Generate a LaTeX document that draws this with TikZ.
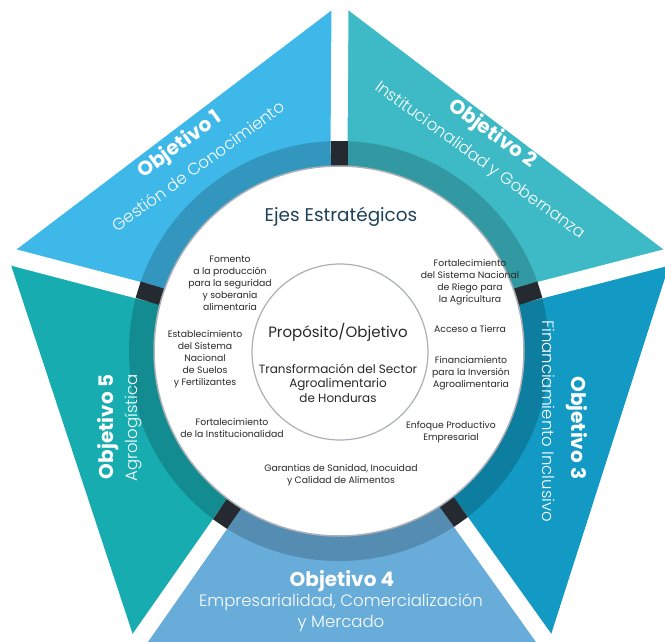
\documentclass[tikz,border=0pt]{standalone}
\usepackage{fontspec}
\setmainfont{Poppins}
\IfFontExistsTF{Poppins Light}{\newfontfamily\lightfont{Poppins Light}}{\newfontfamily\lightfont{Poppins}}
\usetikzlibrary{calc}
\definecolor{cA}{RGB}{62,184,232}
\definecolor{cB}{RGB}{62,186,198}
\definecolor{cC}{RGB}{18,154,196}
\definecolor{cD}{RGB}{104,172,218}
\definecolor{cE}{RGB}{22,172,176}
\definecolor{sepc}{RGB}{36,42,48}
\definecolor{circc}{RGB}{170,176,182}
\definecolor{txt}{RGB}{40,40,40}
\definecolor{ejes}{RGB}{30,65,90}
\begin{document}
\begin{tikzpicture}[x=1pt,y=-1pt,
  small/.style={font=\fontsize{9.3}{12}\selectfont, text=txt, align=center, inner sep=0pt},
  objtitle/.style={font=\fontsize{20}{22}\selectfont\bfseries, text=white, inner sep=0pt},
  objsub/.style={font=\fontsize{16.5}{21}\selectfont\lightfont, text=white, align=center, inner sep=0pt},
  gapline/.style={white, line width=17pt},
  sepbar/.style={sepc, line width=17pt}
]
\useasboundingbox (0,0) rectangle (665,641);
\clip (0,0) rectangle (665,641);
\coordinate (C) at (339,351);
\coordinate (T) at (340,4);
\coordinate (L) at (8,256);
\coordinate (R) at (672,256);
\coordinate (BL) at (136,644);
\coordinate (BR) at (548,644);
\coordinate (ST) at ($(C)+(90:197pt)$);
\coordinate (SL) at ($(C)+(163:197pt)$);
\coordinate (SR) at ($(C)+(17:197pt)$);
\coordinate (SBL) at ($(C)+(235.5:197pt)$);
\coordinate (SBR) at ($(C)+(305.5:197pt)$);
% sectors
\fill[cA] (C) -- (SL) -- (L) -- (T) -- (ST) -- cycle;
\fill[cB] (C) -- (ST) -- (T) -- (R) -- (SR) -- cycle;
\fill[cC] (C) -- (SR) -- (R) -- (BR) -- (SBR) -- cycle;
\fill[cD] (C) -- (SBR) -- (BR) -- (BL) -- (SBL) -- cycle;
\fill[cE] (C) -- (SBL) -- (BL) -- (L) -- (SL) -- cycle;
\draw[gapline] (ST) -- ($(ST)!1.5!(T)$);
\draw[gapline] (SL) -- ($(SL)!1.5!(L)$);
\draw[gapline] (SR) -- ($(SR)!1.5!(R)$);
\draw[gapline] (SBL) -- ($(SBL)!1.5!(BL)$);
\draw[gapline] (SBR) -- ($(SBR)!1.5!(BR)$);
% ring
\fill[black, opacity=.18, even odd rule] (C) circle[radius=210pt] (C) circle[radius=185pt];
\foreach \a in {90,163,17,235.5,305.5}
  \draw[sepbar] ($(C)+(\a:184pt)$) -- ($(C)+(\a:210pt)$);
% circles
\draw[fill=white, draw=circc, line width=1.5pt] (C) circle[radius=185pt];
\coordinate (IC) at (340,352);
\draw[draw=circc, line width=1.2pt] (IC) circle[radius=88pt];
% inner texts
\node[font=\fontsize{18.4}{20}\selectfont, text=ejes, inner sep=0pt] (ejes) at (341,217) {Ejes Estratégicos};
\node[font=\fontsize{15}{17}\selectfont, text=txt, inner sep=0pt] (prop) at (338,332) {Propósito/Objetivo};
\node[font=\fontsize{12}{14.5}\selectfont, text=txt, align=center, inner sep=0pt] (transf) at (338,383) {Transformación del Sector\\Agroalimentario\\de Honduras};
\node[small] (e1) at (230,283) {Fomento\\a la producción\\para la seguridad\\y soberanía\\alimentaria};
\node[small] (e2) at (470,282) {Fortalecimiento\\del Sistema Nacional\\de Riego para\\la Agricultura};
\node[small] (e3) at (470,329) {Acceso a Tierra};
\node[small] (e4) at (471,373) {Financiamiento\\para la Inversión\\Agroalimentaria};
\node[small] (e5) at (451,432) {Enfoque Productivo\\Empresarial};
\node[small] (e6) at (341,475) {Garantias de Sanidad, Inocuidad\\y Calidad de Alimentos};
\node[small] (e7) at (232,428) {Fortalecimiento\\de la Institucionalidad};
\node[small] (e8) at (205,359) {Establecimiento\\del Sistema\\Nacional\\de Suelos\\y Fertilizantes};
% objective texts
\node[objtitle, rotate=36] (o1t) at (180,145) {Objetivo 1};
\node[objsub, rotate=36] (o1s) at (198,166) {Gestión de Conocimiento};
\node[objtitle, rotate=-36] (o2t) at (492,134) {Objetivo 2};
\node[objsub, rotate=-36] (o2s) at (480,161) {Institucionalidad y Gobernanza};
\node[objtitle, rotate=-90] (o3t) at (577,428) {Objetivo 3};
\node[objsub, rotate=-90] (o3s) at (549,421) {Financiamiento Inclusivo};
\node[objtitle] (o4t) at (342,581) {Objetivo 4};
\node[objsub] (o4s) at (341,613) {Empresarialidad, Comercialización\\y Mercado};
\node[objtitle, rotate=90] (o5t) at (108,427) {Objetivo 5};
\node[objsub, rotate=90] (o5s) at (133,428) {Agrologística};
\end{tikzpicture}
\end{document}
